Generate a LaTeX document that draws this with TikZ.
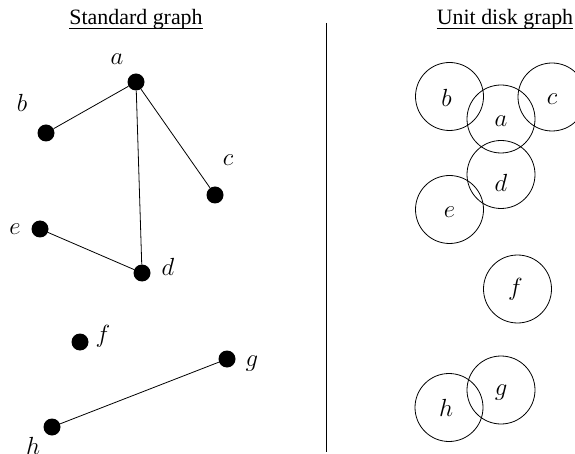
\documentclass[tikz,border=0pt]{standalone}
\usepackage{fontspec}
\setmainfont{Liberation Serif}
\begin{document}
\begin{tikzpicture}[x=1bp,y=-1bp,
  dot/.style={circle,fill=black,inner sep=0pt,minimum size=17bp},
  disk/.style={circle,draw=black,line width=0.8bp,inner sep=0pt,minimum size=68bp},
  lbl/.style={font=\fontsize{24}{28}\selectfont,inner sep=0pt},
  ttl/.style={font=\fontsize{22}{26}\selectfont,inner sep=0pt,anchor=base},
  edge/.style={line width=0.8bp}]
\useasboundingbox (0,0) rectangle (575,454);
% titles
\node[ttl] (t1) at (136,25) {Standard graph};
\node[ttl] (t2) at (505,25) {Unit disk graph};
\draw[line width=0.8bp] ([yshift=-3.5bp]t1.base west) -- ([yshift=-3.5bp]t1.base east);
\draw[line width=0.8bp] ([yshift=-3.5bp]t2.base west) -- ([yshift=-3.5bp]t2.base east);
% divider
\coordinate (vtop) at (326,23);
\coordinate (vbot) at (326,452);
\draw[line width=0.8bp] (vtop) -- (vbot);
% standard graph
\node[dot] (a) at (136,82) {};
\node[dot] (b) at (46,133) {};
\node[dot] (c) at (215,195) {};
\node[dot] (e) at (40,229) {};
\node[dot] (d) at (142,273) {};
\node[dot] (f) at (80,342) {};
\node[dot] (g) at (227,359) {};
\node[dot] (h) at (52,427) {};
\node[lbl] (la) at (117,59) {$a$};
\node[lbl] (lb) at (22,103) {$b$};
\node[lbl] (lc) at (228,160) {$c$};
\node[lbl] (le) at (15,229) {$e$};
\node[lbl] (ld) at (168,267) {$d$};
\node[lbl] (lf) at (103,336) {$f$};
\node[lbl] (lg) at (252,364) {$g$};
\node[lbl] (lh) at (33,446) {$h$};
\draw[edge] (a) -- (b);
\draw[edge] (a) -- (c);
\draw[edge] (a) -- (d);
\draw[edge] (e) -- (d);
\draw[edge] (g) -- (h);
% unit disk graph
\node[disk] (db) at (449.5,96.5) {};
\node[disk] (da) at (501,119) {};
\node[disk] (dc) at (552,97) {};
\node[disk] (dd) at (501,174.5) {};
\node[disk] (de) at (449.5,209.5) {};
\node[disk] (df) at (517.5,289) {};
\node[disk] (dg) at (501,390) {};
\node[disk] (dh) at (449,407.5) {};
\node[lbl] at ([xshift=-3bp,yshift=-1bp]db.center) {$b$};
\node[lbl] at ([yshift=-2bp]da.center) {$a$};
\node[lbl] at ([yshift=-2bp]dc.center) {$c$};
\node[lbl] at ([yshift=-8bp]dd.center) {$d$};
\node[lbl] at ([yshift=-2.5bp]de.center) {$e$};
\node[lbl] at ([xshift=-2bp]df.center) {$f$};
\node[lbl] at ([yshift=-3bp]dg.center) {$g$};
\node[lbl] at ([xshift=-3bp]dh.center) {$h$};
\end{tikzpicture}
\end{document}
